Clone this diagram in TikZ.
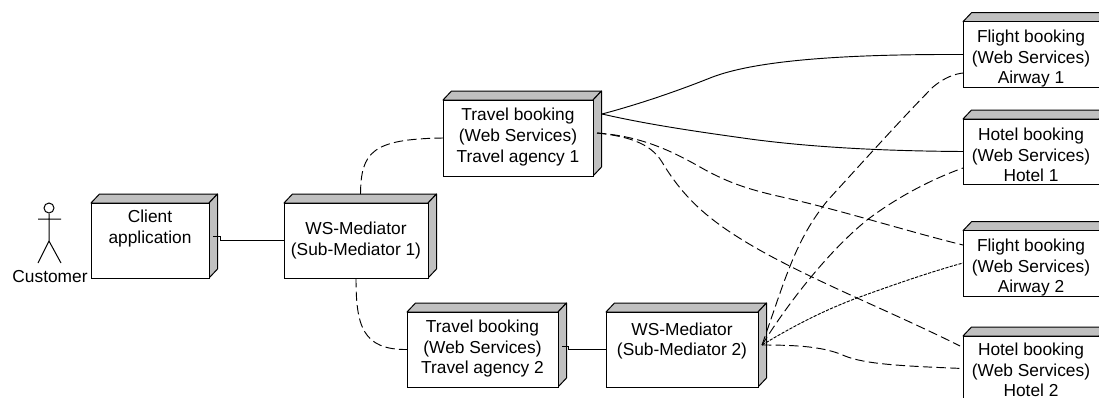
\documentclass[tikz,border=0pt]{standalone}
\usepackage{fontspec}
\setmainfont{Liberation Sans}
\newcommand\Up[1]{\rule[-#1]{0pt}{0pt}}
\newcommand\Dn[1]{\rule{0pt}{#1}}
\tikzset{
  x=.75pt,y=-.75pt,
  sz/.style 2 args={minimum width=#1*.75pt,minimum height=#2*.75pt},
  box/.style={draw=black,fill=white,line width=.75pt,inner sep=0pt,outer sep=0pt,align=center,
    font=\fontsize{13}{15.5}\selectfont,
    append after command={\pgfextra{
      \draw[line width=.75pt,fill=boxgray,line join=round] (\tikzlastnode.north west) -- ++(8.5,-9) -- ($(\tikzlastnode.north east)+(8.5,-9)$) -- (\tikzlastnode.north east) -- cycle;
      \draw[line width=.75pt,fill=boxgray,line join=round] (\tikzlastnode.north east) -- ++(8.5,-9) -- ($(\tikzlastnode.south east)+(8.5,-9)$) -- (\tikzlastnode.south east) -- cycle;
    }}},
  solidline/.style={line width=.7pt,black},
  dashline/.style={line width=.7pt,black,dash pattern=on 7pt off 3.2pt},
  dotline/.style={line width=.7pt,black,dash pattern=on 2.4pt off 1pt},
  person/.style={line width=.75pt,black},
  caption/.style={inner sep=0pt,font=\fontsize{13}{15}\selectfont}
}
\usetikzlibrary{calc}
\definecolor{boxgray}{HTML}{C0C0C0}
\begin{document}
\begin{tikzpicture}
\path[use as bounding box] (0,0) rectangle (1099,397);
\clip (0,0) rectangle (1099,397);
% nodes
\node[box,sz={118}{75}] (client) at (150,240.5) {Client\\application\\\mbox{}\Up{5pt}};
\node[box,sz={144}{75}] (med1) at (356,240.5) {WS-Mediator\\(Sub-Mediator 1)};
\node[box,sz={150}{76}] (t1) at (518,138) {Travel booking\\(Web Services)\\Travel agency 1\Up{4pt}};
\node[box,sz={151}{75}] (t2) at (482.5,349.5) {Travel booking\\(Web Services)\\Travel agency 2\Up{4pt}};
\node[box,sz={152}{75}] (med2) at (682,349.5) {WS-Mediator\\(Sub-Mediator 2)\\\mbox{}};
\node[box,sz={136}{65}] (f1) at (1031,54.5) {\Dn{15.5pt}Flight booking\\(Web Services)\\Airway 1};
\node[box,sz={136}{65}] (h1) at (1031,151.5) {\Dn{14.5pt}Hotel booking\\(Web Services)\\Hotel 1};
\node[box,sz={136}{65}] (f2) at (1031,263.5) {\Dn{15.5pt}Flight booking\\(Web Services)\\Airway 2};
\node[box,sz={136}{65}] (h2) at (1031,368.5) {\Dn{11.5pt}Hotel booking\\(Web Services)\\Hotel 2};
% actor
\node[draw=black,line width=.75pt,circle,inner sep=0pt,minimum size=7.5pt] (head) at (49,208) {};
\coordinate (hip) at (49,241);
\coordinate (armL) at (38,219);
\coordinate (armR) at (61,219);
\coordinate (legL) at (38,263);
\coordinate (legR) at (61,263);
\draw[person] (head.south) -- (hip) (armL) -- (armR) (legL) -- (hip) -- (legR);
\node[caption] (cust) at (50,277) {Customer};
% connection points on the boxes' faces
\coordinate (clientP) at (213,236);
\coordinate (t2P) at (562,346);
\coordinate (t1S) at (602,114);
\coordinate (t1D) at (597,133);
\coordinate (m1T) at (360.5,194);
\coordinate (m2P) at (762,345);
\coordinate (f1D) at (963,73);
\coordinate (h1D) at (963,168);
\coordinate (f2D) at (963,245);
\coordinate (f2d) at (963,263);
\coordinate (h2D) at (960,346);
% connectors
\draw[solidline] (clientP) -- (220,236) -- (220,240.5) -- (med1.west);
\draw[solidline] (t2P) -- (568,346) -- (568,349.5) -- (med2.west);
\draw[dashline] (m1T) .. controls (361,152) and (372,139) .. (t1.west);
\draw[dashline] (med1.south) .. controls (356,325) and (362,350) .. (t2.west);
\draw[solidline] (t1S) .. controls (640,104) and (680,90) .. (710,78) .. controls (750,62) and (830,54) .. (f1.west);
\draw[solidline] (t1S) .. controls (650,125) and (700,132) .. (750,139) .. controls (810,147) and (880,151) .. (h1.west);
\draw[dashline] (t1D) .. controls (640,136) and (670,150) .. (700,167) .. controls (735,187) and (760,192) .. (795,200) .. controls (850,213) and (910,232) .. (f2D);
\draw[dashline] (t1D) .. controls (625,136) and (650,142) .. (662,162) .. controls (680,192) and (700,212) .. (730,232) .. controls (790,272) and (880,306) .. (h2D);
\draw[dashline] (m2P) .. controls (785,280) and (795,240) .. (828,200) .. controls (860,165) and (905,115) .. (933,87) .. controls (945,77) and (955,74) .. (f1D);
\draw[dashline] (m2P) .. controls (790,300) and (830,250) .. (867,220) .. controls (900,195) and (935,178) .. (h1D);
\draw[dotline] (m2P) .. controls (795,325) and (825,310) .. (857,298) .. controls (890,286) and (930,272) .. (f2d);
\draw[dashline] (m2P) .. controls (800,345) and (825,347) .. (845,356) .. controls (865,364) and (900,366) .. (h2.west);
\end{tikzpicture}
\end{document}
